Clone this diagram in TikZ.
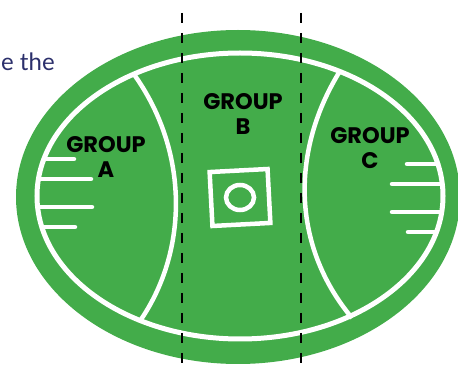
\documentclass[tikz,border=0pt]{standalone}
\usepackage{fontspec}
\setmainfont{Poppins}
\newfontfamily\leadfont{Lato}
\usepackage{tikz}
\usetikzlibrary{positioning, calc, shapes.geometric}
\definecolor{cField}{HTML}{43AC4A}
\definecolor{cNavy} {HTML}{2B2F6B}

\begin{document}
\begin{tikzpicture}[x=1pt, y=-1pt,
    fieldline/.style={draw=white, line width=5pt},
    hashline/.style={draw=white, line width=4.5pt, line cap=round},
    zoneline/.style={draw=black, line width=2.8pt, dash pattern=on 10pt off 10pt},
    grouplabel/.style={font=\fontsize{22.5}{25}\selectfont\bfseries, align=center,
                       text=black, inner sep=0pt}]
  \useasboundingbox (0,0) rectangle (458,371);
  % leading text, cut off at the left
  \node[font=\leadfont\fontsize{24}{28}\selectfont, text=cNavy, anchor=base west,
        inner sep=0pt] (lead) at (1,71) {e the};
  % oval
  \fill[cField] (238,197) ellipse [x radius=222, y radius=167];
  \draw[fieldline] (240,196) ellipse [x radius=203, y radius=143];
  % arcs of the two ends
  \coordinate (arcAtop) at (133,73);
  \coordinate (arcAbot) at (140,321);
  \coordinate (arcCtop) at (340,71);
  \coordinate (arcCbot) at (352,318);
  \draw[fieldline, line width=4.5pt] (arcAtop) .. controls (189,150) and (189,250) .. (arcAbot);
  \draw[fieldline, line width=4.5pt] (arcCtop) .. controls (291,150) and (291,245) .. (arcCbot);
  % hash lines
  \foreach \y/\xs/\xe in {159/44/74, 179/39/91, 207/39/92, 227/42/75}
    \draw[hashline] (\xs,\y) -- (\xe,\y);
  \foreach \y/\xs/\xe in {164/407/438, 184/392/442, 212/392/441, 232/408/436}
    \draw[hashline] (\xs,\y) -- (\xe,\y);
  % centre square
  \node[draw=white, line width=4.5pt, minimum width=58pt, minimum height=54pt,
        rotate=3] (centre) at (240,197.5) {};
  \node[draw=white, line width=4.5pt, ellipse, minimum width=28pt, minimum height=25pt,
        inner sep=0pt] (ring) at (centre.center) {};
  % group labels
  \node[grouplabel] (groupA) at (106,157) {GROUP\\A};
  \node[grouplabel] (groupB) at (243,114) {GROUP\\B};
  \node[grouplabel] (groupC) at (370,148) {GROUP\\C};
  % zone dividers
  \draw[zoneline] (182,13) -- (182,371);
  \draw[zoneline] (301,13) -- (301,371);
\end{tikzpicture}
\end{document}
